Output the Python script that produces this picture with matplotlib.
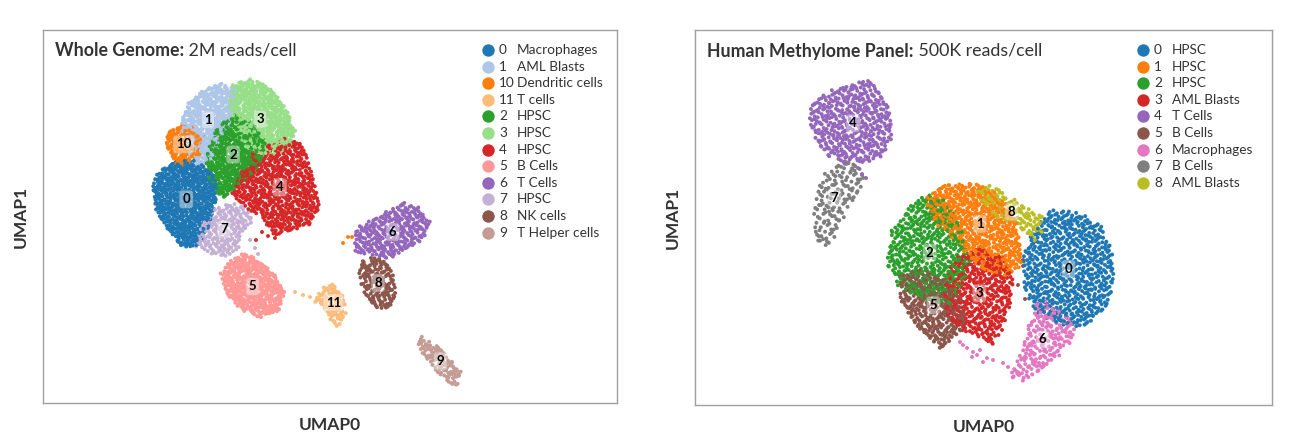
import numpy as np
import matplotlib.pyplot as plt
from matplotlib.path import Path

plt.rcParams['font.family'] = ['Lato', 'DejaVu Sans']

# ---- Whole Genome panel (coordinates, image pixels) ----
wg_ids = ["0", "1", "10", "11", "2", "3", "4", "5", "6", "7", "8", "9"]
wg_names = ["Macrophages", "AML Blasts", "Dendritic cells", "T cells", "HPSC", "HPSC",
            "HPSC", "B Cells", "T Cells", "HPSC", "NK cells", "T Helper cells"]
wg_colors = ["#1f77b4", "#aec7e8", "#ff7f0e", "#ffbb78", "#2ca02c", "#98df8a",
             "#d62728", "#ff9896", "#9467bd", "#c5b0d5", "#8c564b", "#c49c94"]
wg_counts = [650, 450, 150, 90, 500, 550, 650, 450, 300, 200, 150, 100]
wg_outlines = [
    [(160, 175), (177, 165), (193, 163), (208, 172), (215, 188), (212, 208), (207, 225),
     (197, 242), (183, 243), (170, 228), (158, 208), (155, 188)],
    [(190, 105), (203, 93), (220, 87), (233, 92), (235, 112), (227, 128), (217, 142),
     (210, 158), (197, 162), (190, 148), (183, 125)],
    [(170, 133), (180, 127), (193, 128), (200, 142), (198, 155), (187, 162), (177, 163),
     (170, 152), (167, 142)],
    [(322, 290), (333, 285), (342, 293), (345, 313), (338, 325), (332, 323), (327, 310),
     (315, 303)],
    [(217, 132), (233, 118), (250, 125), (263, 142), (260, 162), (250, 175), (237, 185),
     (223, 195), (212, 182), (208, 158)],
    [(233, 88), (250, 82), (267, 88), (283, 108), (293, 132), (287, 145), (267, 155),
     (250, 148), (237, 132), (232, 108)],
    [(257, 155), (283, 143), (300, 148), (307, 168), (312, 188), (317, 205), (307, 222),
     (287, 228), (273, 232), (263, 215), (247, 205), (235, 195), (243, 175)],
    [(233, 262), (247, 255), (260, 265), (273, 275), (282, 292), (277, 308), (260, 315),
     (243, 308), (230, 295), (223, 275)],
    [(360, 228), (380, 217), (403, 205), (417, 210), (427, 223), (420, 240), (403, 248),
     (390, 257), (373, 253), (357, 250)],
    [(207, 215), (227, 205), (243, 208), (250, 222), (240, 235), (237, 248), (223, 255),
     (207, 250), (195, 243), (203, 228)],
    [(362, 263), (377, 258), (390, 270), (395, 290), (390, 303), (380, 308), (370, 300),
     (363, 287), (360, 273)],
    [(422, 338), (437, 347), (450, 360), (460, 372), (457, 383), (447, 382), (437, 370),
     (427, 360), (420, 347)],
]
wg_strays = {
    "10": [(343, 243), (348, 237), (352, 237), (214, 168), (203, 135)],
    "11": [(295, 292), (303, 295), (310, 297), (317, 298)],
    "4": [(262, 232), (268, 236), (256, 240), (275, 238), (393, 240)],
    "7": [(250, 240), (255, 248), (258, 254)],
    "8": [(270, 310)],
}

# ---- Human Methylome Panel ----
hm_ids = ["0", "1", "2", "3", "4", "5", "6", "7", "8"]
hm_names = ["HPSC", "HPSC", "HPSC", "AML Blasts", "T Cells", "B Cells",
            "Macrophages", "B Cells", "AML Blasts"]
hm_colors = ["#1f77b4", "#ff7f0e", "#2ca02c", "#d62728", "#9467bd", "#8c564b",
             "#e377c2", "#7f7f7f", "#bcbd22"]
hm_counts = [700, 600, 550, 450, 450, 350, 200, 140, 120]
hm_outlines = [
    [(1037, 232), (1053, 215), (1080, 217), (1097, 228), (1108, 252), (1110, 282),
     (1100, 308), (1080, 322), (1060, 320), (1037, 307), (1028, 285), (1027, 258),
     (1032, 242)],
    [(930, 202), (950, 187), (977, 188), (993, 195), (1003, 205), (1013, 222), (1018, 245),
     (1017, 265), (1003, 272), (987, 268), (970, 255), (953, 235), (937, 222)],
    [(913, 208), (930, 198), (947, 208), (960, 235), (967, 262), (957, 288), (947, 302),
     (923, 295), (900, 282), (890, 262), (895, 232)],
    [(957, 262), (980, 252), (1003, 262), (1010, 282), (1007, 308), (1000, 328),
     (990, 342), (977, 332), (957, 325), (947, 308), (948, 282)],
    [(817, 103), (833, 93), (853, 87), (868, 83), (880, 97), (887, 113), (888, 137),
     (880, 153), (867, 158), (847, 160), (830, 153), (818, 137), (812, 117)],
    [(903, 278), (923, 272), (947, 282), (960, 302), (963, 322), (953, 335), (940, 345),
     (927, 335), (913, 318), (903, 302)],
    [(1037, 302), (1053, 308), (1070, 322), (1072, 338), (1057, 355), (1043, 368),
     (1023, 378), (1012, 375), (1020, 358), (1027, 335), (1033, 315)],
    [(840, 165), (850, 163), (857, 170), (863, 183), (853, 197), (843, 217), (833, 237),
     (827, 245), (818, 237), (815, 217), (820, 190), (827, 173)],
    [(977, 192), (993, 188), (1010, 198), (1027, 208), (1043, 217), (1040, 232),
     (1033, 238), (1023, 232), (1013, 222), (1000, 218), (987, 208)],
]
hm_strays = {
    "6": [(960, 342), (963, 345), (967, 348), (972, 357), (977, 355), (980, 350),
          (987, 358), (993, 360), (1003, 363), (1008, 367), (973, 352), (983, 362)],
    "5": [(1023, 260), (1023, 266), (1025, 299), (1018, 285)],
    "4": [(858, 168), (862, 174), (866, 178)],
}


def halton(n, base, start):
    out = np.empty(n)
    for k in range(n):
        i = k + start
        f = 1.0
        r = 0.0
        while i > 0:
            f /= base
            r += f * (i % base)
            i //= base
        out[k] = r
    return out


def fill_shape(outline, count, start, grow=1.1):
    # spread `count` cells evenly over the cluster outline (slightly widened so
    # neighbouring clusters bleed into each other like in the source)
    pts0 = np.array(outline, dtype=float)
    c = pts0.mean(axis=0)
    pts0 = c + (pts0 - c) * grow
    poly = Path(pts0)
    lo, hi = pts0.min(axis=0), pts0.max(axis=0)
    m = count * 4
    u = halton(m, 2, start)
    v = halton(m, 3, start)
    pts = np.column_stack([lo[0] + u * (hi[0] - lo[0]), lo[1] + v * (hi[1] - lo[1])])
    pts = pts[poly.contains_points(pts)]
    return pts[:count]


def draw_panel(ax, ids, names, colors, counts, outlines, strays, tb, tr, box):
    x0, x1, y0, y1 = box
    all_pts, all_cols, centers = [], [], []
    for k, cid in enumerate(ids):
        pts = fill_shape(outlines[k], counts[k], 17 + 911 * k)
        centers.append(np.median(pts, axis=0))
        if cid in strays:
            pts = np.vstack([pts, np.array(strays[cid], dtype=float)])
        all_pts.append(pts)
        all_cols += [colors[k]] * len(pts)
    all_pts = np.vstack(all_pts)
    all_cols = np.array(all_cols)
    order = np.argsort(halton(len(all_pts), 5, 3))
    ax.scatter(all_pts[order, 0], all_pts[order, 1], c=all_cols[order], s=8, linewidths=0)

    for k, cid in enumerate(ids):
        ax.text(centers[k][0], centers[k][1], cid, fontsize=9.5, fontweight='bold',
                ha='center', va='center', color='black',
                bbox=dict(boxstyle='round,pad=0.2', fc='white', ec='#bbbbbb',
                          alpha=0.4, lw=0.6))

    # legend
    lx = x1 - 129
    for k, cid in enumerate(ids):
        yy = y0 + 20 + 16.6 * k
        ax.scatter([lx], [yy], s=80, color=colors[k], linewidths=0, clip_on=False)
        ax.text(lx + 11, yy, cid, fontsize=9.8, va='center', ha='left', color='#333333')
        ax.text(lx + 29, yy, names[k], fontsize=9.8, va='center', ha='left', color='#333333')

    t = ax.text(x0 + 12, y0 + 21, tb, fontsize=12.8, fontweight='bold', va='center',
                ha='left', color='#333333')
    ax.annotate(" " + tr, xy=(1, 0.5), xycoords=t, va='center', ha='left',
                fontsize=12.8, color='#333333')

    ax.set_xlim(x0, x1)
    ax.set_ylim(y1, y0)
    ax.set_xticks([])
    ax.set_yticks([])
    for sp in ax.spines.values():
        sp.set_color('#a0a0a0')
        sp.set_linewidth(1)
    ax.set_xlabel("UMAP0", fontsize=12.5, fontweight='bold', color='#333333', labelpad=10)
    ax.set_ylabel("UMAP1", fontsize=12.5, fontweight='bold', color='#333333', labelpad=10)


fig = plt.figure(figsize=(13.06, 4.42), dpi=100)
ax1 = fig.add_axes([43 / 1306, 1 - 403 / 442, 574 / 1306, 373 / 442])
ax2 = fig.add_axes([695 / 1306, 1 - 405 / 442, 577 / 1306, 375 / 442])

draw_panel(ax1, wg_ids, wg_names, wg_colors, wg_counts, wg_outlines, wg_strays,
           "Whole Genome:", "2M reads/cell", (43, 617, 30, 403))
draw_panel(ax2, hm_ids, hm_names, hm_colors, hm_counts, hm_outlines, hm_strays,
           "Human Methylome Panel:", "500K reads/cell", (695, 1272, 30, 405))

fig.savefig("out.png", dpi=100)
